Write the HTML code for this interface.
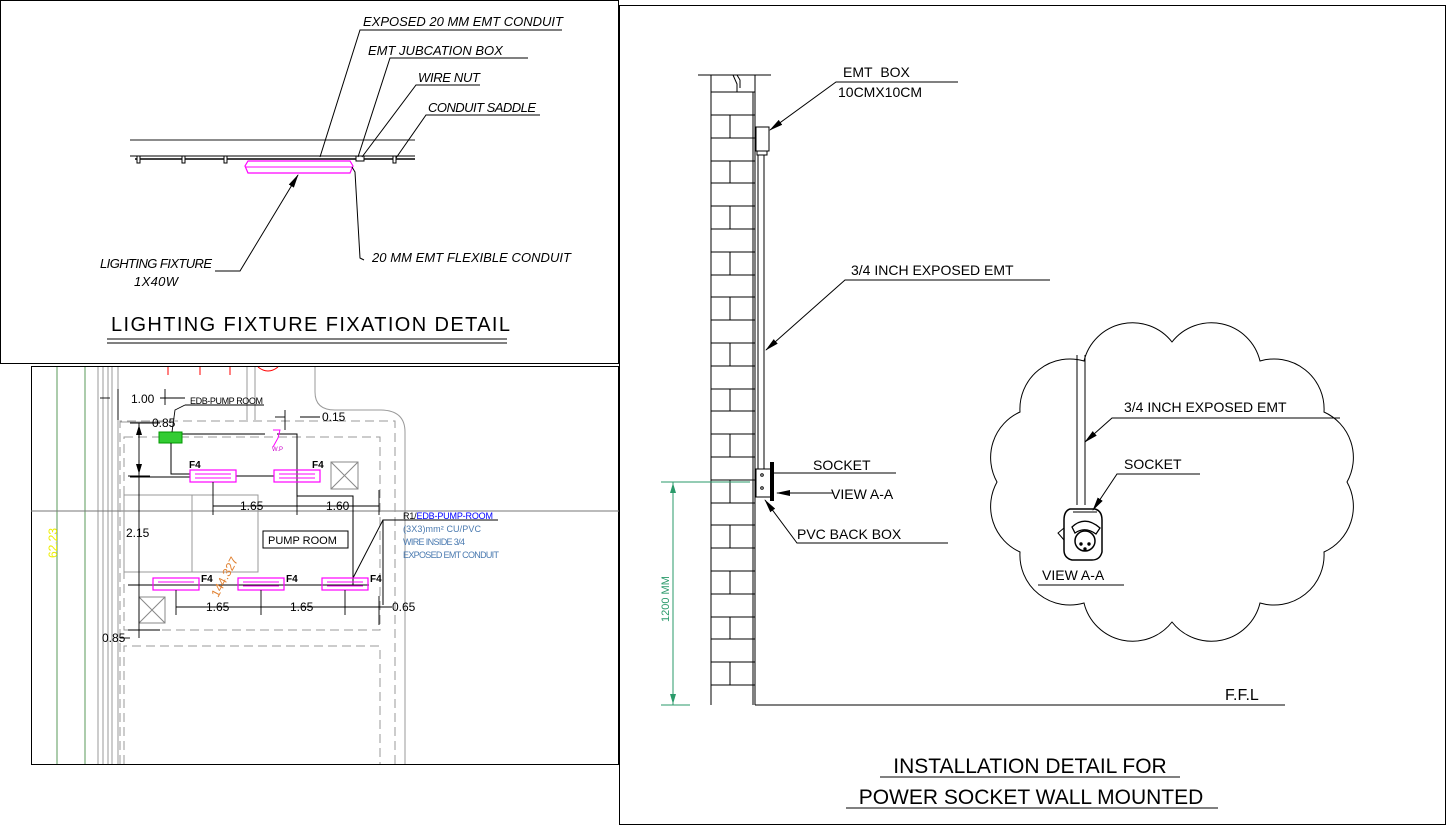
<!DOCTYPE html>
<html><head><meta charset="utf-8"><style>
html,body{margin:0;padding:0;background:#fff}
svg{display:block}
text{font-family:"Liberation Sans",sans-serif}
.it{font-style:italic;font-size:13px}
</style></head><body>
<svg width="1451" height="827" viewBox="0 0 1451 827" xmlns="http://www.w3.org/2000/svg">
<defs>
<marker id="ar" markerWidth="14" markerHeight="8" refX="13" refY="4" orient="auto" markerUnits="userSpaceOnUse"><path d="M0,1 L14,4 L0,7 Z" fill="#000"/></marker>
<marker id="da" markerWidth="10" markerHeight="6" refX="10" refY="3" orient="auto" markerUnits="userSpaceOnUse"><path d="M0,0 L10,3 L0,6 Z" fill="#000"/></marker>
<marker id="dg" markerWidth="10" markerHeight="6" refX="10" refY="3" orient="auto" markerUnits="userSpaceOnUse"><path d="M0,0 L10,3 L0,6 Z" fill="#2a9a6a"/></marker>
</defs>

<!-- frames -->
<rect x="0.5" y="0.5" width="618" height="363" fill="none" stroke="#000"/>
<rect x="619.5" y="5.5" width="826" height="819" fill="none" stroke="#000"/>
<rect x="31.5" y="366.5" width="587" height="398" fill="none" stroke="#000"/>

<!-- ===== LIGHTING FIXTURE DETAIL ===== -->
<line x1="130" y1="140" x2="415" y2="140" stroke="#666" stroke-width="1.5"/>
<line x1="130" y1="156" x2="415" y2="156" stroke="#000"/>
<line x1="135" y1="159" x2="415" y2="159" stroke="#000" stroke-width="1.5"/>
<g fill="#fff" stroke="#000">
<rect x="137" y="156" width="3" height="7"/><rect x="182" y="156" width="3" height="7"/><rect x="224" y="156" width="3" height="7"/><rect x="393" y="156" width="3" height="7"/>
<rect x="356" y="156" width="8" height="5"/>
</g>
<path d="M248,161 L350,161 L353,166 L350,173 L248,173 L245,166 Z" fill="none" stroke="#f0f" stroke-width="1.2"/>
<line x1="246" y1="167" x2="352" y2="167" stroke="#f0f"/>
<g stroke="#000" fill="none">
<polyline points="562,30 360,30 320,157"/>
<polyline points="528,58 390,58 358,157"/>
<polyline points="480,85 416,85 362,157"/>
<polyline points="540,115 426,115 396,158"/>
<polyline points="215,271 240,271 298,175" marker-end="url(#ar)"/>
<polyline points="364,260 360,258 355,172 352,167"/>
</g>
<text class="it" x="363" y="26" textLength="200">EXPOSED 20 MM EMT CONDUIT</text>
<text class="it" x="368" y="55">EMT JUBCATION BOX</text>
<text class="it" x="418" y="82" textLength="62">WIRE NUT</text>
<text class="it" x="428" y="112" textLength="108">CONDUIT SADDLE</text>
<text class="it" x="100" y="268" textLength="112">LIGHTING FIXTURE</text>
<text class="it" x="134" y="286" textLength="44">1X40W</text>
<text class="it" x="372" y="262" textLength="199">20 MM EMT FLEXIBLE CONDUIT</text>
<text x="111" y="331" font-size="20" textLength="399">LIGHTING FIXTURE FIXATION DETAIL</text>
<line x1="107" y1="339" x2="507" y2="339" stroke="#000"/>
<line x1="107" y1="343" x2="507" y2="343" stroke="#000"/>

<!-- ===== FLOOR PLAN ===== -->
<g stroke="#5a9a5a"><line x1="57" y1="367" x2="57" y2="764"/><line x1="85" y1="367" x2="85" y2="764"/></g>
<g stroke="#999"><line x1="98" y1="367" x2="98" y2="764"/><line x1="103" y1="367" x2="103" y2="764"/><line x1="108" y1="367" x2="108" y2="764"/><line x1="112" y1="367" x2="112" y2="764"/>
<line x1="118" y1="367" x2="118" y2="764"/>
<line x1="31" y1="511" x2="619" y2="511" stroke="#777"/>
<path d="M315,367 L315,392 Q315,410 335,410 L380,410 Q405,410 405,432 L405,764" fill="none"/>
<line x1="120" y1="422" x2="170" y2="422"/><line x1="180" y1="434" x2="265" y2="434" stroke="#000"/>
<line x1="247" y1="367" x2="247" y2="420"/><line x1="255" y1="367" x2="255" y2="420"/>
</g>
<g fill="none" stroke="#999" stroke-dasharray="9,5">
<rect x="124" y="437" width="256" height="193"/>
<polyline points="120,764 120,421 395,421 395,764"/>
<polyline points="124,764 124,646 380,646 380,764"/>
</g>
<g stroke="#999" fill="none"><rect x="124" y="495" width="134" height="77"/><line x1="192" y1="495" x2="192" y2="572"/></g>
<g stroke="#f00"><line x1="168" y1="367" x2="168" y2="375"/><line x1="200" y1="367" x2="200" y2="375"/><line x1="230" y1="367" x2="230" y2="375"/><path d="M258,367 Q268,375 278,367" fill="none"/></g>
<rect x="159" y="432" width="23" height="11" fill="#3c3" stroke="#090"/>
<g stroke="#000" fill="none">
<polyline points="171,443 171,474 190,474"/>
<line x1="236" y1="476" x2="274" y2="476"/>
<polyline points="277,434 297,434 297,496 353,496 353,585"/>
<line x1="130" y1="585" x2="369" y2="585"/>
<polyline points="383,605 383,520 498,520"/>
<line x1="353" y1="578" x2="383" y2="520"/>
<line x1="130" y1="477" x2="190" y2="477"/>
</g>
<g fill="none" stroke="#f0f" stroke-width="1.2">
<rect x="190" y="470" width="46" height="12"/><rect x="274" y="470" width="46" height="12"/>
<rect x="153" y="578" width="46" height="12"/><rect x="238" y="578" width="46" height="12"/><rect x="322" y="578" width="46" height="12"/>
</g>
<g stroke="#f0f"><line x1="195" y1="474" x2="231" y2="474"/><line x1="195" y1="478" x2="231" y2="478"/><line x1="279" y1="474" x2="315" y2="474"/><line x1="279" y1="478" x2="315" y2="478"/>
<line x1="158" y1="582" x2="194" y2="582"/><line x1="243" y1="582" x2="279" y2="582"/><line x1="327" y1="582" x2="363" y2="582"/><line x1="243" y1="586" x2="279" y2="586"/><line x1="327" y1="586" x2="363" y2="586"/>
<polyline points="273,430 280,430 278,438 273,447" fill="none"/></g>
<text x="272" y="451" font-size="6" fill="#c0c">W.P</text>
<g font-family="Liberation Serif" font-weight="bold" font-size="10">
<text x="189" y="468">F4</text><text x="312" y="468">F4</text><text x="201" y="582">F4</text><text x="286" y="582">F4</text><text x="370" y="582">F4</text></g>
<g fill="none" stroke="#888"><rect x="331" y="462" width="27" height="27"/><path d="M331,462 L358,489 M358,462 L331,489"/><rect x="139" y="597" width="26" height="26"/><path d="M139,597 L165,623 M165,597 L139,623"/></g>
<rect x="263" y="531" width="85" height="17" fill="#fff" stroke="#000"/>
<text x="268" y="544" font-size="11">PUMP ROOM</text>
<g stroke="#000" fill="none" stroke-width="0.9">
<line x1="139" y1="423" x2="139" y2="638"/><line x1="130" y1="423" x2="160" y2="423"/><line x1="128" y1="476" x2="150" y2="476"/><line x1="128" y1="585" x2="150" y2="585"/><line x1="128" y1="630" x2="160" y2="630"/>
<line x1="139" y1="438" x2="139" y2="425" marker-end="url(#da)"/><line x1="139" y1="460" x2="139" y2="474" marker-end="url(#da)"/>
<line x1="213" y1="482" x2="213" y2="515"/><line x1="297" y1="496" x2="297" y2="515"/><line x1="379" y1="490" x2="379" y2="515"/>
<line x1="213" y1="506" x2="379" y2="506"/>
<line x1="176" y1="590" x2="176" y2="615"/><line x1="261" y1="590" x2="261" y2="615"/><line x1="345" y1="590" x2="345" y2="615"/><line x1="379" y1="596" x2="379" y2="625"/>
<line x1="176" y1="607" x2="392" y2="607"/>
<line x1="100" y1="398" x2="110" y2="398"/><line x1="118" y1="389" x2="118" y2="420"/>
<line x1="160" y1="398" x2="185" y2="398"/><line x1="165" y1="389" x2="165" y2="405"/>
<line x1="185" y1="405" x2="264" y2="405"/><polyline points="185,405 175,410 172,432" />
<line x1="275" y1="417" x2="285" y2="417"/><line x1="285" y1="410" x2="285" y2="430"/><line x1="300" y1="417" x2="320" y2="417"/>
<line x1="120" y1="638" x2="130" y2="638"/>
</g>
<g font-size="12">
<text x="131" y="403">1.00</text><text x="152" y="427">0.85</text><text x="322" y="421">0.15</text>
<text x="240" y="510">1.65</text><text x="326" y="510">1.60</text><text x="126" y="537">2.15</text>
<text x="206" y="611">1.65</text><text x="290" y="611">1.65</text><text x="392" y="611">0.65</text><text x="102" y="642">0.85</text>
</g>
<text x="190" y="404" font-size="9" textLength="73">EDB-PUMP ROOM</text>
<text x="403" y="519" font-size="9" fill="#000" textLength="90">R1/<tspan fill="#00f">EDB-PUMP-ROOM</tspan></text>
<g font-size="9" fill="#4a7ab0"><text x="403" y="532" textLength="78">(3X3)mm² CU/PVC</text><text x="403" y="545" textLength="62">WIRE INSIDE 3/4</text><text x="403" y="558" textLength="96">EXPOSED EMT CONDUIT</text></g>
<text transform="translate(57,558) rotate(-90)" font-size="12" fill="#ee0">62.23</text>
<text transform="translate(218,598) rotate(-62)" font-size="12" fill="#e08030">144.327</text>

<!-- ===== WALL DETAIL ===== -->
<g stroke="#000" fill="none">
<line x1="698" y1="75" x2="771" y2="75"/>
<path d="M733,75 L737,84 L737,92 M737,75 L740,80 L740,88"/>
<line x1="711" y1="75" x2="711" y2="705"/><line x1="755" y1="75" x2="755" y2="705"/>
<line x1="753" y1="92" x2="753" y2="705"/>
<line x1="711" y1="92" x2="755" y2="92"/>
</g>
<g stroke="#000">
<line x1="711" y1="115" x2="755" y2="115"/><line x1="730" y1="115" x2="730" y2="138"/>
<line x1="711" y1="138" x2="755" y2="138"/>
<line x1="711" y1="161" x2="755" y2="161"/><line x1="730" y1="161" x2="730" y2="183"/>
<line x1="711" y1="183" x2="755" y2="183"/>
<line x1="711" y1="206" x2="755" y2="206"/><line x1="730" y1="206" x2="730" y2="229"/>
<line x1="711" y1="229" x2="755" y2="229"/>
<line x1="711" y1="252" x2="755" y2="252"/><line x1="730" y1="252" x2="730" y2="275"/>
<line x1="711" y1="275" x2="755" y2="275"/>
<line x1="711" y1="297" x2="755" y2="297"/><line x1="730" y1="297" x2="730" y2="320"/>
<line x1="711" y1="320" x2="755" y2="320"/>
<line x1="711" y1="343" x2="755" y2="343"/><line x1="730" y1="343" x2="730" y2="366"/>
<line x1="711" y1="366" x2="755" y2="366"/>
<line x1="711" y1="389" x2="755" y2="389"/><line x1="730" y1="389" x2="730" y2="411"/>
<line x1="711" y1="411" x2="755" y2="411"/>
<line x1="711" y1="434" x2="755" y2="434"/><line x1="730" y1="434" x2="730" y2="457"/>
<line x1="711" y1="457" x2="755" y2="457"/>
<line x1="711" y1="480" x2="755" y2="480"/><line x1="730" y1="480" x2="730" y2="503"/>
<line x1="711" y1="503" x2="755" y2="503"/>
<line x1="711" y1="525" x2="755" y2="525"/><line x1="730" y1="525" x2="730" y2="548"/>
<line x1="711" y1="548" x2="755" y2="548"/>
<line x1="711" y1="571" x2="755" y2="571"/><line x1="730" y1="571" x2="730" y2="594"/>
<line x1="711" y1="594" x2="755" y2="594"/>
<line x1="711" y1="617" x2="755" y2="617"/><line x1="730" y1="617" x2="730" y2="639"/>
<line x1="711" y1="639" x2="755" y2="639"/>
<line x1="711" y1="662" x2="755" y2="662"/><line x1="730" y1="662" x2="730" y2="685"/>
<line x1="711" y1="685" x2="755" y2="685"/>
</g>
<line x1="755" y1="705" x2="1285" y2="705" stroke="#000"/>
<g stroke="#000" fill="#fff">
<rect x="756" y="127" width="13" height="24"/>
<rect x="757" y="151" width="10" height="4"/>
</g>
<g stroke="#000"><line x1="758" y1="155" x2="758" y2="469"/><line x1="764" y1="155" x2="764" y2="469"/></g>
<rect x="756" y="469" width="15" height="28" fill="#fff" stroke="#000"/>
<rect x="770" y="462" width="4" height="39" fill="#000"/>
<circle cx="762" cy="475" r="1.3" fill="none" stroke="#000"/><circle cx="762" cy="488" r="1.3" fill="none" stroke="#000"/>
<g stroke="#000" fill="none">
<polyline points="958,82 836,82 770,130" marker-end="url(#ar)"/>
<polyline points="1050,280 845,280 766,350" marker-end="url(#ar)"/>
<line x1="774" y1="473" x2="896" y2="473"/>
<line x1="833" y1="493" x2="777" y2="493" marker-end="url(#ar)"/>
<polyline points="948,543 797,543 765,500" marker-end="url(#ar)"/>
</g>
<g font-size="14">
<text x="843" y="77">EMT&#160;&#160;BOX</text><text x="838" y="97">10CMX10CM</text>
<text x="851" y="275">3/4 INCH EXPOSED EMT</text>
<text x="813" y="470">SOCKET</text><text x="831" y="499">VIEW A-A</text><text x="797" y="539">PVC BACK BOX</text>
<text x="1225" y="700" font-size="16">F.F.L</text>
</g>
<g stroke="#2a9a6a" fill="none">
<line x1="661" y1="482" x2="750" y2="482"/><line x1="661" y1="705" x2="690" y2="705"/>
<line x1="673" y1="482" x2="673" y2="705"/>
<line x1="673" y1="500" x2="673" y2="483" marker-end="url(#dg)"/><line x1="673" y1="690" x2="673" y2="704" marker-end="url(#dg)"/>
</g>
<text transform="translate(669,622) rotate(-90)" font-size="11" fill="#2a9a6a">1200 MM</text>

<!-- cloud -->
<path d="M997,482 A50,50 0 0 1 1020,412 A50,50 0 0 1 1084,361 A50,50 0 0 1 1172,342 A50,50 0 0 1 1260,361 A50,50 0 0 1 1324,412 A50,50 0 0 1 1347,482 A50,50 0 0 1 1324,552 A50,50 0 0 1 1260,603 A50,50 0 0 1 1172,622 A50,50 0 0 1 1084,603 A50,50 0 0 1 1020,552 A50,50 0 0 1 997,482 Z" fill="none" stroke="#000"/>
<g stroke="#000"><line x1="1077" y1="355" x2="1077" y2="505"/><line x1="1085" y1="355" x2="1085" y2="505"/></g>
<g stroke="#000" fill="none">
<polyline points="1340,418 1112,418 1085,442" marker-end="url(#ar)"/>
<polyline points="1200,474 1117,474 1093,510" marker-end="url(#ar)"/>
<path d="M1070,509 L1095,509 Q1102,511 1102,520 L1102,552 Q1100,560 1092,560 L1072,560 Q1064,558 1064,550 L1064,520 Q1064,511 1070,509 Z" stroke-width="1.5"/>
<path d="M1064,528 L1058,533 L1064,540"/>
<path d="M1073,512 L1097,512" />
<circle cx="1085" cy="541" r="10" stroke-width="1.5"/>
<path d="M1072,527 Q1085,515 1100,528 L1096,534 Q1085,526 1075,533 Z" stroke-width="1.3"/>
<circle cx="1081" cy="544" r="1.2" fill="#000"/><circle cx="1089" cy="544" r="1.2" fill="#000"/><circle cx="1085" cy="549" r="1.2" fill="#000"/>
</g>
<text x="1124" y="412" font-size="14">3/4 INCH EXPOSED EMT</text>
<text x="1124" y="469" font-size="14">SOCKET</text>
<text x="1042" y="580" font-size="14">VIEW A-A</text>
<line x1="1038" y1="585" x2="1124" y2="585" stroke="#000"/>

<text x="1030" y="773" font-size="21" text-anchor="middle">INSTALLATION DETAIL FOR</text>
<line x1="880" y1="777" x2="1180" y2="777" stroke="#000"/>
<text x="1031" y="804" font-size="21" text-anchor="middle">POWER SOCKET WALL MOUNTED</text>
<line x1="846" y1="808" x2="1218" y2="808" stroke="#000"/>
</svg>
</body></html>
